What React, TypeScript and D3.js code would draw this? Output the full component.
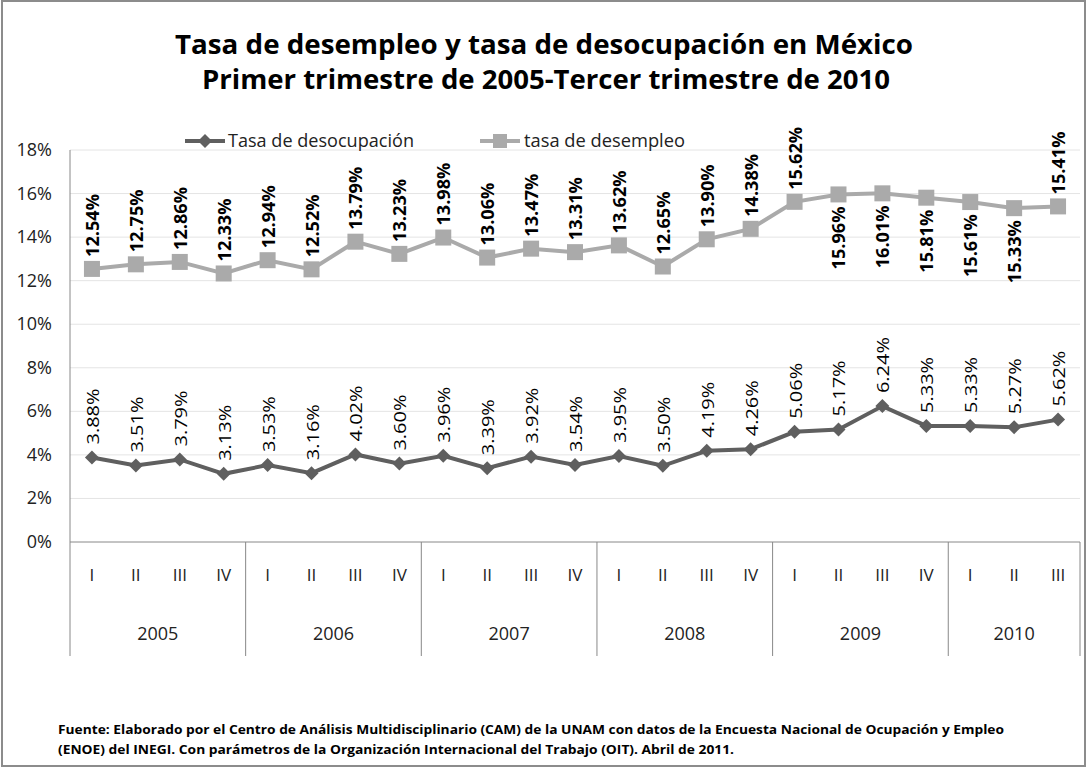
import React, { useEffect } from "react";
import * as d3 from "d3";

const years = ["2005", "2006", "2007", "2008", "2009", "2010"];
const quartersPerYear = [4, 4, 4, 4, 4, 3];
const quarterNames = ["I", "II", "III", "IV"];

// Tasa de desocupación (%)
const desocupacion = [
  3.88, 3.51, 3.79, 3.13, 3.53, 3.16, 4.02, 3.6, 3.96, 3.39, 3.92, 3.54, 3.95, 3.5, 4.19, 4.26,
  5.06, 5.17, 6.24, 5.33, 5.33, 5.27, 5.62,
];
// tasa de desempleo (%)
const desempleo = [
  12.54, 12.75, 12.86, 12.33, 12.94, 12.52, 13.79, 13.23, 13.98, 13.06, 13.47, 13.31, 13.62,
  12.65, 13.9, 14.38, 15.62, 15.96, 16.01, 15.81, 15.61, 15.33, 15.41,
];
const yTicks = [0, 2, 4, 6, 8, 10, 12, 14, 16, 18];
// desempleo labels drawn below the marker
const belowLabels = [17, 18, 19, 20, 21];

const font = "Open Sans, sans-serif";
const darkGray = "#5f5f5f";
const lightGray = "#aaaaaa";

export default function App() {
  useEffect(() => {
    document.body.style.margin = "0";
  }, []);

  const width = 1088;
  const height = 769;
  const margin = { left: 70, right: 1080, top: 150, bottom: 542 };

  const categories: { q: string; year: string }[] = [];
  years.forEach((y, i) => {
    for (let k = 0; k < quartersPerYear[i]; k++) categories.push({ q: quarterNames[k], year: y });
  });
  const idx = categories.map((_, i) => String(i));

  const x = d3.scaleBand().domain(idx).range([margin.left, margin.right]);
  const y = d3.scaleLinear().domain([0, 18]).range([margin.bottom, margin.top]);
  const cx = (i: number) => (x(String(i)) as number) + x.bandwidth() / 2;

  const line = d3
    .line<number>()
    .x((_, i) => cx(i))
    .y((d) => y(d));

  // year group boundaries
  const bounds: number[] = [0];
  quartersPerYear.forEach((n, i) => bounds.push(bounds[i] + n));
  const edge = (b: number) => (b === categories.length ? margin.right : (x(String(b)) as number));

  return (
    <svg width={width} height={height} style={{ display: "block", background: "#fff" }}>
      <rect x={2} y={1} width={1083} height={765} fill="#fff" stroke="#8c8c8c" strokeWidth={2} />

      <text x={544} y={54} textAnchor="middle" fontFamily={font} fontWeight="bold" fontSize={26} textLength={738} lengthAdjust="spacingAndGlyphs" fill="#000">
        Tasa de desempleo y tasa de desocupación en México
      </text>
      <text x={546} y={89} textAnchor="middle" fontFamily={font} fontWeight="bold" fontSize={26} textLength={688} lengthAdjust="spacingAndGlyphs" fill="#000">
        Primer trimestre de 2005-Tercer trimestre de 2010
      </text>

      {/* gridlines */}
      {yTicks.map((t) => (
        <g key={t}>
          <line x1={margin.left} x2={margin.right} y1={y(t)} y2={y(t)} stroke={t === 0 ? "#888" : "#e4e4e4"} strokeWidth={1} />
          <text x={52} y={y(t) + 6} textAnchor="end" fontFamily={font} fontSize={18} fill="#222">
            {t}%
          </text>
        </g>
      ))}
      <line x1={margin.left} x2={margin.left} y1={margin.top} y2={margin.bottom} stroke="#888" />

      {/* category axis */}
      {bounds.map((b, i) => (
        <line key={i} x1={edge(b)} x2={edge(b)} y1={margin.bottom} y2={656} stroke="#888" />
      ))}
      {categories.map((c, i) => (
        <text key={i} x={cx(i)} y={581} textAnchor="middle" fontFamily={font} fontSize={17} fill="#222">
          {c.q}
        </text>
      ))}
      {years.map((yr, i) => (
        <text key={yr} x={(edge(bounds[i]) + edge(bounds[i + 1])) / 2} y={640} textAnchor="middle" fontFamily={font} fontSize={18} fill="#222">
          {yr}
        </text>
      ))}

      {/* desempleo */}
      <path d={line(desempleo) as string} fill="none" stroke={lightGray} strokeWidth={4} />
      {desempleo.map((v, i) => (
        <rect key={i} x={cx(i) - 8} y={y(v) - 8} width={16} height={16} fill={lightGray} />
      ))}
      {desempleo.map((v, i) => {
        const below = belowLabels.includes(i);
        const px = cx(i) + 7;
        const py = below ? y(v) + 12 : y(v) - 12;
        return (
          <text key={i} transform={`translate(${px},${py}) rotate(-90)`} textAnchor={below ? "end" : "start"} fontFamily={font} fontWeight="bold" fontSize={18} textLength={63} lengthAdjust="spacingAndGlyphs" fill="#000">
            {v.toFixed(2)}%
          </text>
        );
      })}

      {/* desocupacion */}
      <path d={line(desocupacion) as string} fill="none" stroke={darkGray} strokeWidth={4} />
      {desocupacion.map((v, i) => (
        <path key={i} d="M0,-7L7,0L0,7L-7,0Z" transform={`translate(${cx(i)},${y(v)})`} fill={darkGray} />
      ))}
      {desocupacion.map((v, i) => (
        <text key={i} transform={`translate(${cx(i) + 7},${y(v) - 13}) rotate(-90)`} fontFamily={font} fontSize={17} textLength={56} lengthAdjust="spacingAndGlyphs" fill="#000">
          {v.toFixed(2)}%
        </text>
      ))}

      {/* legend */}
      <line x1={185} x2={225} y1={141} y2={141} stroke={darkGray} strokeWidth={4} />
      <path d="M0,-7L7,0L0,7L-7,0Z" transform="translate(205,141)" fill={darkGray} />
      <text x={228} y={147} fontFamily={font} fontSize={18} textLength={186} lengthAdjust="spacingAndGlyphs" fill="#222">
        Tasa de desocupación
      </text>
      <line x1={480} x2={520} y1={141} y2={141} stroke={lightGray} strokeWidth={4} />
      <rect x={493} y={134} width={14} height={14} fill={lightGray} />
      <text x={524} y={147} fontFamily={font} fontSize={18} textLength={161} lengthAdjust="spacingAndGlyphs" fill="#222">
        tasa de desempleo
      </text>

      {/* source */}
      <text x={58} y={734} fontFamily={font} fontWeight="bold" fontSize={12} textLength={946} lengthAdjust="spacingAndGlyphs" fill="#000">
        Fuente: Elaborado por el Centro de Análisis Multidisciplinario (CAM) de la UNAM con datos de la Encuesta Nacional de  Ocupación y Empleo
      </text>
      <text x={58} y={754} fontFamily={font} fontWeight="bold" fontSize={12} textLength={676} lengthAdjust="spacingAndGlyphs" fill="#000">
        (ENOE) del INEGI. Con parámetros de la Organización Internacional del Trabajo (OIT). Abril de 2011.
      </text>
    </svg>
  );
}
